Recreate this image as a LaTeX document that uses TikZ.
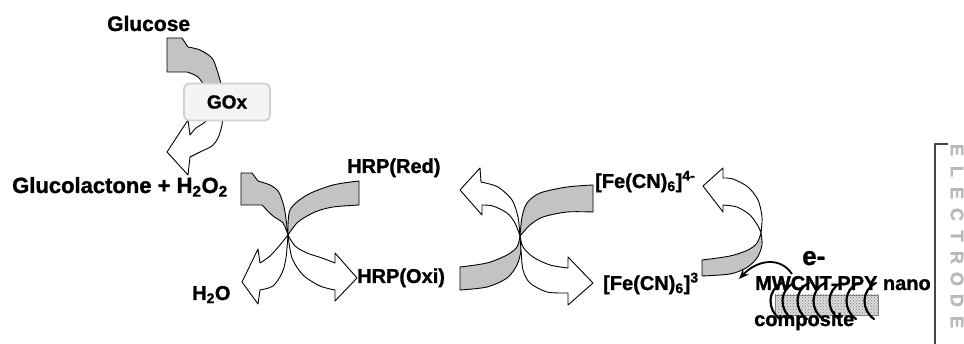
\documentclass[tikz,border=0pt]{standalone}
\usepackage{fontspec}
\setmainfont{Liberation Sans}[BoldFeatures={FakeBold=1.2}]
\usetikzlibrary{patterns,arrows.meta}
\definecolor{armgray}{RGB}{195,195,195}
\definecolor{boxfill}{RGB}{244,244,244}
\definecolor{boxline}{RGB}{210,210,210}
\definecolor{elecgray}{RGB}{185,185,185}
\definecolor{elecline}{RGB}{70,70,70}
\begin{document}
\begin{tikzpicture}[x=1pt, y=-1pt, >={Stealth[length=10pt,width=8pt]}, line join=round,
    grayarm/.style={draw=black, fill=armgray, line width=0.9pt},
    whitearm/.style={draw=black, fill=white, line width=0.9pt},
    lbl/.style={font=\bfseries\fontsize{20}{24}\selectfont, inner sep=0pt, anchor=base west},
    enzyme/.style={draw=boxline, fill=boxfill, line width=1.8pt, rounded corners=5pt,
        minimum width=86pt, minimum height=37pt, font=\bfseries\fontsize{19}{22}\selectfont},
    elec/.style={text=elecgray, font=\bfseries\fontsize{18}{18}\selectfont, rotate=-90}]
\useasboundingbox[fill=white] (0,0) rectangle (964,344);

% Glucose -> GOx -> glucolactone
\filldraw[grayarm] (167,38) -- (182,38) -- (188,47)
    -- plot[smooth] coordinates {(188,47) (200,50) (212,58) (217,70) (220,80) (223,90)}
    -- (207,90) -- plot[smooth] coordinates {(207,90) (198,77) (187,72)} -- (167,72) -- cycle;
\filldraw[whitearm] (223,112)
    -- plot[smooth] coordinates {(223,112) (222,125) (218,138) (212,146) (200,152) (190,157)}
    -- (188,175) -- (167,152) -- (188,120) -- (190,135)
    -- plot[smooth] coordinates {(190,135) (196,128) (205,122) (212,112)} -- cycle;
\node[enzyme] (gox) at (227,102) {GOx};

% HRP cross
\filldraw[grayarm] (241,173) -- (252,173) -- (258,181)
    -- plot[smooth] coordinates {(258,181) (270,185) (278,191) (282,200) (285,212) (288,235)}
    -- plot[smooth] coordinates {(288,235) (283,223) (273,216) (262,205)} -- (241,205) -- cycle;
\filldraw[grayarm] plot[smooth] coordinates {(288,235) (290,210) (307,195) (333,185) (359,181)}
    -- (359,205) -- plot[smooth] coordinates {(359,205) (333,207) (315,212) (298,222) (288,235)} -- cycle;
\filldraw[whitearm] plot[smooth] coordinates {(288,235) (280,245) (270,256) (260,263)}
    -- (258,249) -- (242,282) -- (258,304) -- (260,290)
    -- plot[smooth] coordinates {(260,290) (273,286) (282,273) (286,258) (288,235)} -- cycle;
\filldraw[whitearm] plot[smooth] coordinates {(288,235) (295,246) (307,253) (322,258) (335,263)}
    -- (335,253) -- (357,278) -- (335,301) -- (335,290)
    -- plot[smooth] coordinates {(335,290) (320,286) (303,275) (292,258) (288,235)} -- cycle;

% ferricyanide cross
\filldraw[whitearm] plot[smooth] coordinates {(520,236) (518,217) (512,200) (498,187) (481,182)}
    -- (480,168) -- (460,190) -- (482,215) -- (482,205)
    -- plot[smooth] coordinates {(482,205) (493,206) (507,213) (515,223) (520,236)} -- cycle;
\filldraw[grayarm] plot[smooth] coordinates {(520,236) (522,217) (527,203) (540,193) (567,187) (593,185)}
    -- (593,212) -- plot[smooth] coordinates {(593,212) (567,212) (543,217) (530,225) (520,236)} -- cycle;
\filldraw[grayarm] plot[smooth] coordinates {(520,236) (517,247) (507,255) (487,263) (460,267)}
    -- (460,290) -- plot[smooth] coordinates {(460,290) (487,287) (507,278) (517,265) (521,250) (520,236)} -- cycle;
\filldraw[whitearm] plot[smooth] coordinates {(520,236) (523,247) (533,257) (550,265) (568,268)}
    -- (568,257) -- (593,283) -- (568,305) -- (568,293)
    -- plot[smooth] coordinates {(568,293) (547,292) (530,283) (523,270) (521,250) (520,236)} -- cycle;

% turn at the electrode
\filldraw[whitearm] plot[smooth] coordinates {(761,233) (762,217) (758,200) (748,187) (733,179) (723,178)}
    -- (723,168) -- (703,186) -- (723,212) -- (723,205)
    -- plot[smooth] coordinates {(723,205) (737,207) (750,215) (758,226) (761,233)} -- cycle;
\filldraw[grayarm] plot[smooth] coordinates {(761,233) (762,245) (757,258) (746,268) (730,274) (702,276)}
    -- (702,260) -- plot[smooth] coordinates {(702,260) (730,256) (748,250) (757,243) (761,233)} -- cycle;

% composite rod and nanotubes
\fill[armgray!60] (775,295) rectangle (878,315);
\fill[pattern=crosshatch dots, pattern color=gray] (775,295) rectangle (878,315);
\draw[gray, line width=0.8pt] (775,295) rectangle (878,315);

% labels
\node[lbl, font=\bfseries\fontsize{21}{24}\selectfont] (glucose) at (107,31) {Glucose};
\node[lbl, font=\bfseries\fontsize{22}{24}\selectfont] (lactone) at (12,193) {Glucolactone + H\textsubscript{2}O\textsubscript{2}};
\node[lbl] (hrpred) at (347,173) {HRP(Red)};
\node[lbl] (hrpoxi) at (357,283) {HRP(Oxi)};
\node[lbl] (water) at (192,300) {H\textsubscript{2}O};
\node[lbl] (ferro) at (595,188) {[Fe(CN)\textsubscript{6}]\textsuperscript{4-}};
\node[lbl] (ferri) at (603,290) {[Fe(CN)\textsubscript{6}]\textsuperscript{3}};
\node[lbl, font=\bfseries\fontsize{26}{28}\selectfont] (eminus) at (802,265) {e-};
\node[lbl] (mwcnt) at (755,290) {MWCNT-PPY nano};
\node[lbl] (composite) at (754,326) {composite};

\foreach \x in {770,782,797,813,829,846,864}
    \draw[line width=2.2pt, line cap=round] (\x+12,283) .. controls (\x-3,290) and (\x-3,310) .. (\x+10,319);

% electron transfer
\coordinate (etail) at (792,274);
\coordinate (ehead) at (739,279);
\draw[->, line width=1.8pt] (etail) .. controls (780,256) and (757,260) .. (ehead);

% electrode
\draw[elecline, line width=1.5pt] (948,144) -- (935,144) -- (935,344);
\foreach \l [count=\i] in {E,L,E,C,T,R,O,D,E}
    \node[elec] (elec\i) at (957,{150+21.5*(\i-1)}) {\l};
\end{tikzpicture}
\end{document}
